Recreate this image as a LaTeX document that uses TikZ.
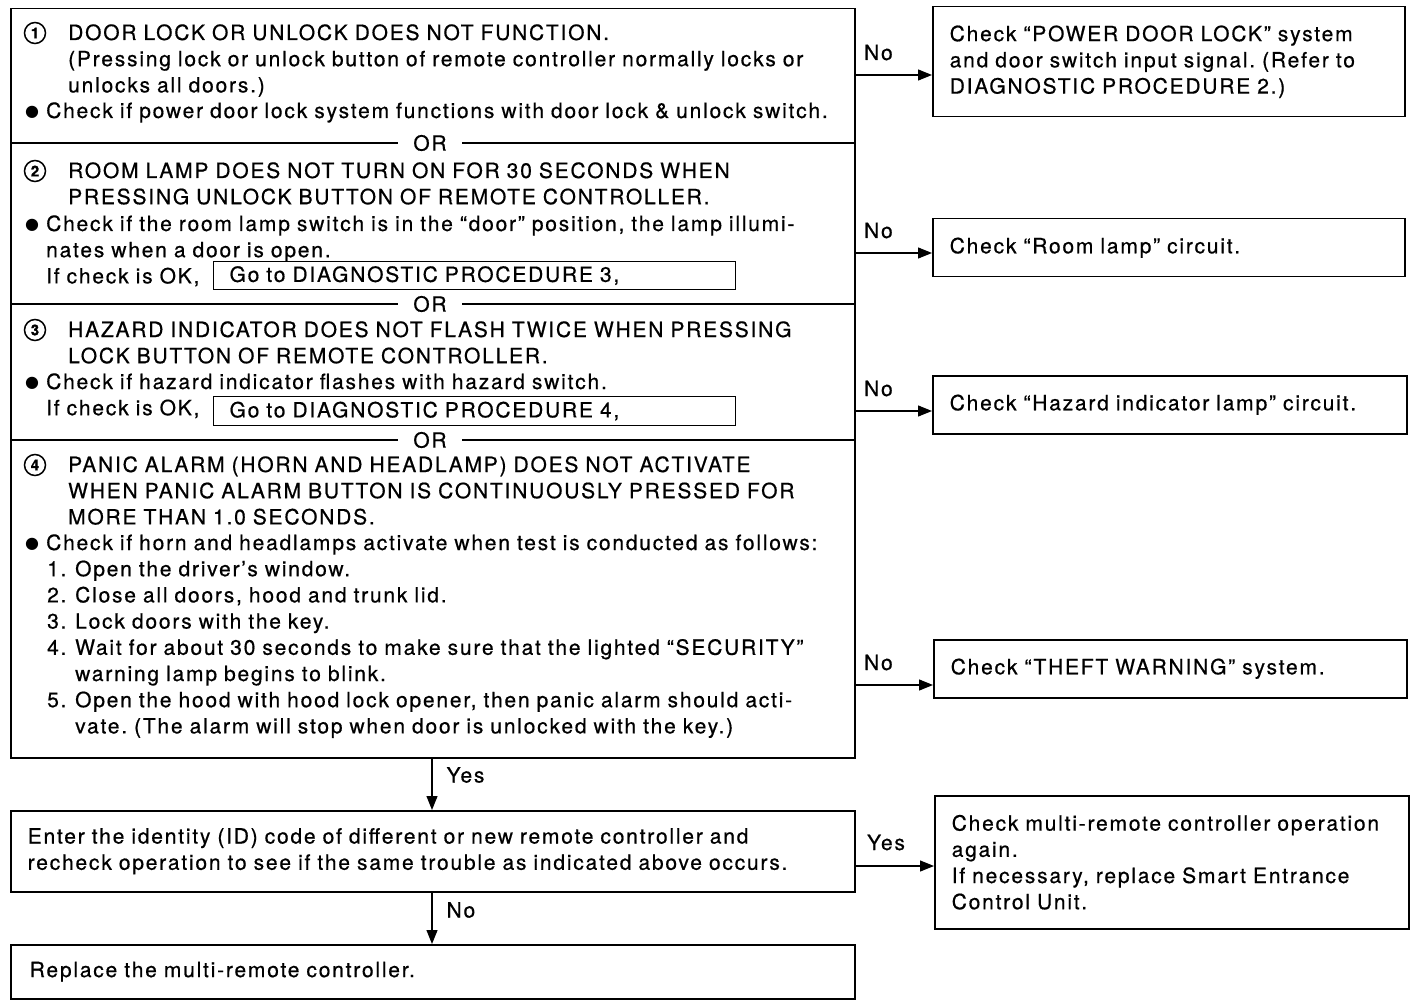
\documentclass[tikz,border=0pt]{standalone}
\usepackage{fontspec}
\setmainfont{TeX Gyre Heros}[LetterSpace=8.5,FakeBold=0.6]
\newfontfamily\dejavu{DejaVu Sans}
\usetikzlibrary{arrows.meta}
\newcommand\blt{\makebox[21pt][l]{\raisebox{1.5pt}{\dejavu\fontsize{16}{26}\selectfont ●}}}
\frenchspacing
\begin{document}
\begin{tikzpicture}
[x=1pt,y=-1pt,
every node/.style={font=\fontsize{21}{26.2}\selectfont},
box/.style={draw, line width=1.5pt, anchor=north west, inner ysep=0pt, align=left},
sect/.style={anchor=base west, inner sep=0pt, text width=900pt, align=left},
circnum/.style={circle, draw, line width=1.5pt, minimum size=21pt, inner sep=0pt, font=\bfseries\fontsize{15}{15}\selectfont},
orlbl/.style={fill=white, inner xsep=15pt, inner ysep=1pt},
lbl/.style={pos=0, anchor=base west, inner sep=0pt},
arr/.style={line width=1.2pt, -{Triangle[length=14pt,width=11pt]}}]
\useasboundingbox (0,0) rectangle (1424,1008);

% left column
\node[box, minimum width=844pt, minimum height=749pt] (trouble) at (10,8) {};
\node[sect] (h1) at (68,40) {\noindent DOOR LOCK OR UNLOCK DOES NOT FUNCTION.\\
(Pressing lock or unlock button of remote controller normally locks or\\
unlocks all doors.)};
\node[sect] (b1) at (25,118) {\noindent\blt Check if power door lock system functions with door lock \& unlock switch.};
\node[sect] (h2) at (68,178) {\noindent ROOM LAMP DOES NOT TURN ON FOR 30 SECONDS WHEN\\
PRESSING UNLOCK BUTTON OF REMOTE CONTROLLER.};
\node[sect] (b2) at (25,231) {\noindent\blt Check if the room lamp switch is in the “door” position, the lamp illumi-\\
\hspace*{21pt}nates when a door is open.\\
\hspace*{21pt}If check is OK,};
\node[sect] (h3) at (68,337) {\noindent HAZARD INDICATOR DOES NOT FLASH TWICE WHEN PRESSING\\
LOCK BUTTON OF REMOTE CONTROLLER.};
\node[sect] (b3) at (25,389) {\noindent\blt Check if hazard indicator flashes with hazard switch.\\
\hspace*{21pt}If check is OK,};
\node[sect] (h4) at (68,472) {\noindent PANIC ALARM (HORN AND HEADLAMP) DOES NOT ACTIVATE\\
WHEN PANIC ALARM BUTTON IS CONTINUOUSLY PRESSED FOR\\
MORE THAN 1.0 SECONDS.};
\node[sect] (b4) at (25,550) {\noindent\blt Check if horn and headlamps activate when test is conducted as follows:\\
\hspace*{22pt}\makebox[28pt][l]{1.}Open the driver’s window.\\
\hspace*{22pt}\makebox[28pt][l]{2.}Close all doors, hood and trunk lid.\\
\hspace*{22pt}\makebox[28pt][l]{3.}Lock doors with the key.\\
\hspace*{22pt}\makebox[28pt][l]{4.}Wait for about 30 seconds to make sure that the lighted “SECURITY”\\
\hspace*{50pt}warning lamp begins to blink.\\
\hspace*{22pt}\makebox[28pt][l]{5.}Open the hood with hood lock opener, then panic alarm should acti-\\
\hspace*{50pt}vate. (The alarm will stop when door is unlocked with the key.)};
\foreach \n/\y in {1/33,2/171,3/330,4/465}
  \node[circnum] (c\n) at (35,\y) {\n};
\node[box, line width=1.2pt, minimum width=522pt, minimum height=28pt, inner xsep=16pt, text width=490pt] (go3) at (213,261) {Go to DIAGNOSTIC PROCEDURE 3,};
\node[box, line width=1.2pt, minimum width=522pt, minimum height=29pt, inner xsep=16pt, text width=490pt] (go4) at (213,396) {Go to DIAGNOSTIC PROCEDURE 4,};
\foreach \y/\n in {143/1,304/2,440/3}
{
  \draw[line width=1.2pt] (trouble.west |- 0,\y) -- (trouble.east |- 0,\y);
  \node[orlbl] (or\n) at (430,\y) {OR};
}
\node[box, minimum width=844pt, minimum height=81pt, inner xsep=17pt, text width=810pt] (check) at (10,810) {Enter the identity (ID) code of different or new remote controller and\\
recheck operation to see if the same trouble as indicated above occurs.};
\node[box, minimum width=844pt, minimum height=54pt, inner xsep=19pt, text width=806pt] (replace) at (10,944) {Replace the multi-remote controller.};

% right column
\node[box, minimum width=472pt, minimum height=110pt, inner xsep=17pt, text width=438pt] (r1) at (932,6) {Check “POWER DOOR LOCK” system\\
and door switch input signal. (Refer to\\
DIAGNOSTIC PROCEDURE 2.)};
\node[box, minimum width=472pt, minimum height=58pt, inner xsep=17pt, text width=438pt] (r2) at (932,218) {Check “Room lamp” circuit.};
\node[box, minimum width=474pt, minimum height=58pt, inner xsep=17pt, text width=440pt] (r3) at (932,375) {Check “Hazard indicator lamp” circuit.};
\node[box, minimum width=473pt, minimum height=58pt, inner xsep=17pt, text width=439pt] (r4) at (933,639) {Check “THEFT WARNING” system.};
\node[box, minimum width=474pt, minimum height=133pt, inner xsep=17pt, text width=440pt] (r5) at (934,795) {Check multi-remote controller operation\\
again.\\
If necessary, replace Smart Entrance\\
Control Unit.};

% connectors
\foreach \y/\r in {75/r1,253/r2,411/r3,685/r4}
{
  \coordinate (a\r) at (trouble.east |- 0,\y);
  \draw[arr] (a\r) -- node[lbl, xshift=8pt, yshift=15pt] {No} (a\r -| \r.west);
}
\coordinate (ar5) at (check.east |- 0,866);
\draw[arr] (ar5) -- node[lbl, xshift=11pt, yshift=16pt] {Yes} (ar5 -| r5.west);
\coordinate (d1) at (trouble.south -| 432,0);
\draw[arr] (d1) -- node[lbl, xshift=14pt, yshift=-24pt] {Yes} (d1 |- check.north);
\coordinate (d2) at (check.south -| 432,0);
\draw[arr] (d2) -- node[lbl, xshift=14pt, yshift=-25pt] {No} (d2 |- replace.north);
\end{tikzpicture}
\end{document}
